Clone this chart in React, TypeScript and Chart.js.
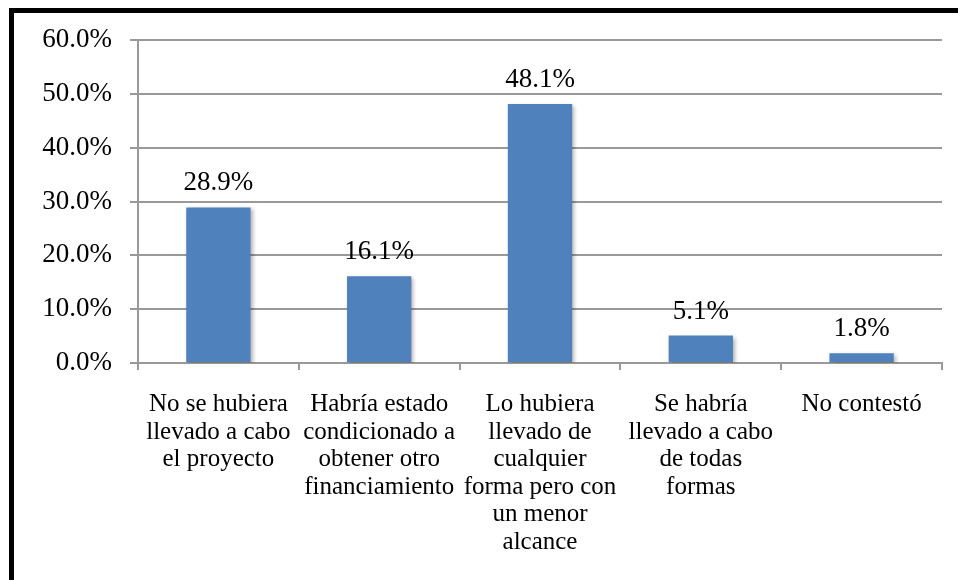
import React, { useEffect, useRef } from "react";
import { Chart, registerables } from "chart.js";

Chart.register(...registerables);

const categories: string[][] = [
  ["No se hubiera", "llevado a cabo", "el proyecto"],
  ["Habría estado", "condicionado a", "obtener otro", "financiamiento"],
  ["Lo hubiera", "llevado de", "cualquier", "forma pero con", "un menor", "alcance"],
  ["Se habría", "llevado a cabo", "de todas", "formas"],
  ["No contestó"],
];

const values: number[] = [28.9, 16.1, 48.1, 5.1, 1.8];

const yMin = 0;
const yMax = 60;
const yStep = 10;

export default function App() {
  const canvasRef = useRef<HTMLCanvasElement | null>(null);

  useEffect(() => {
    document.body.style.margin = "0";
    const canvas = canvasRef.current;
    if (!canvas) return;

    const shadowPlugin = {
      id: "barShadow",
      beforeDatasetsDraw(chart: any) {
        const ctx = chart.ctx;
        ctx.save();
        ctx.shadowColor = "rgba(0,0,0,0.30)";
        ctx.shadowBlur = 4;
        ctx.shadowOffsetX = 2;
        ctx.shadowOffsetY = 2;
      },
      afterDatasetsDraw(chart: any) {
        chart.ctx.restore();
      },
    };

    const valueLabelPlugin = {
      id: "valueLabels",
      afterDatasetsDraw(chart: any) {
        const ctx = chart.ctx;
        const meta = chart.getDatasetMeta(0);
        ctx.save();
        ctx.font = "27px 'Liberation Serif'";
        ctx.fillStyle = "#000000";
        ctx.textAlign = "center";
        ctx.textBaseline = "alphabetic";
        meta.data.forEach((el: any, i: number) => {
          ctx.fillText(values[i].toFixed(1) + "%", el.x, el.y - 17);
        });
        ctx.restore();
      },
    };

    const chart = new Chart(canvas, {
      type: "bar",
      data: {
        labels: categories,
        datasets: [
          {
            data: values,
            backgroundColor: "#4F81BD",
            borderWidth: 0,
            categoryPercentage: 1,
            barPercentage: 0.4,
          },
        ],
      },
      options: {
        animation: false,
        responsive: false,
        maintainAspectRatio: false,
        devicePixelRatio: 1,
        layout: { padding: { top: 40, right: 16, bottom: 0, left: 0 } },
        plugins: {
          legend: { display: false },
          tooltip: { enabled: false },
          title: { display: false },
        },
        scales: {
          x: {
            offset: true,
            grid: {
              offset: true,
              drawOnChartArea: false,
              drawTicks: true,
              tickLength: 7,
              color: "#999999",
              lineWidth: 2,
            },
            border: { display: true, color: "#999999", width: 2 },
            ticks: {
              color: "#000000",
              font: { family: "'Liberation Serif'", size: 25, lineHeight: 1.1 },
              padding: 21,
              maxRotation: 0,
              minRotation: 0,
              autoSkip: false,
            },
            afterFit(scale: any) {
              scale.height = 217;
            },
          },
          y: {
            min: yMin,
            max: yMax,
            grid: {
              color: "#999999",
              lineWidth: 2,
              tickLength: 8,
              drawTicks: true,
            },
            border: { display: true, color: "#999999", width: 2 },
            ticks: {
              stepSize: yStep,
              color: "#000000",
              font: { family: "'Liberation Serif'", size: 27 },
              padding: 18,
              callback: (v: any) => Number(v).toFixed(1) + "%",
            },
            afterFit(scale: any) {
              scale.width = 138;
            },
          },
        },
      },
      plugins: [shadowPlugin, valueLabelPlugin],
    });

    return () => chart.destroy();
  }, []);

  return (
    <div
      style={{
        position: "relative",
        width: 958,
        height: 580,
        overflow: "hidden",
        background: "#ffffff",
      }}
    >
      <canvas
        ref={canvasRef}
        width={958}
        height={580}
        style={{ position: "absolute", left: 0, top: 0, width: 958, height: 580 }}
      />
      <div
        style={{
          position: "absolute",
          left: 9,
          top: 8,
          width: 1200,
          height: 1200,
          borderLeft: "5px solid #000",
          borderTop: "5px solid #000",
          pointerEvents: "none",
        }}
      />
    </div>
  );
}
